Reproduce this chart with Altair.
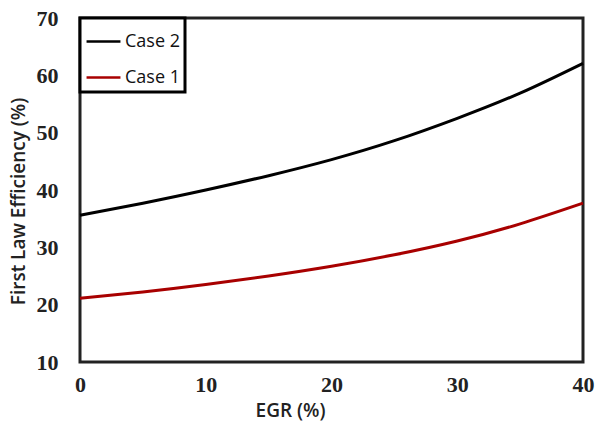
import altair as alt
import pandas as pd

egr = [0, 5, 10, 15, 20, 25, 30, 35, 40]
case2 = [35.6, 37.7, 40.0, 42.5, 45.3, 48.6, 52.5, 56.9, 62.1]
case1 = [21.1, 22.2, 23.5, 25.0, 26.7, 28.7, 31.1, 34.1, 37.7]
series_names = ["Case 2", "Case 1"]
series_colors = ["#000000", "#A80000"]

rows = []
for name, vals in zip(series_names, [case2, case1]):
    for x, v in zip(egr, vals):
        rows.append({"EGR": x, "Eff": v, "Series": name})
df = pd.DataFrame(rows)

chart = alt.Chart(df).mark_line(strokeWidth=3, interpolate="natural").encode(
    x=alt.X("EGR:Q", scale=alt.Scale(domain=[0, 40], nice=False),
            axis=alt.Axis(values=[0, 10, 20, 30, 40], title="EGR (%)", grid=False,
                          ticks=False, domain=False, labelPadding=12, labelFlush=False,
                          labelFont="Liberation Serif", labelFontSize=22, labelFontWeight="bold",
                          labelColor="#222", titleFont="Open Sans", titleFontSize=19,
                          titleFontWeight=600, titleColor="#222", titlePadding=6,
                          titleX=210)),
    y=alt.Y("Eff:Q", scale=alt.Scale(domain=[10, 70], nice=False),
            axis=alt.Axis(values=[10, 20, 30, 40, 50, 60, 70], title="First Law Efficiency (%)",
                          grid=False, ticks=False, domain=False, labelPadding=22,
                          labelFont="Liberation Serif", labelFontSize=22, labelFontWeight="bold",
                          labelColor="#222", titleFont="Open Sans", titleFontSize=19,
                          titleFontWeight=600, titleColor="#222", titleY=183, titlePadding=8)),
    color=alt.Color("Series:N", scale=alt.Scale(domain=series_names, range=series_colors),
                    legend=alt.Legend(title=None, orient="none", legendX=0, legendY=0,
                                      strokeColor="#000", fillColor="white", padding=5,
                                      symbolType="stroke", symbolSize=1150,
                                      symbolStrokeWidth=2.5, labelFont="Open Sans",
                                      labelFontSize=18, labelColor="#111", labelOffset=3,
                                      rowPadding=8, labelLimit=200)),
).properties(
    width=503, height=344,
    autosize=alt.AutoSizeParams(type="none"),
    padding={"left": 80, "top": 18, "right": 15, "bottom": 63},
).configure_view(stroke="#222", strokeWidth=3).configure_legend(strokeWidth=3)

chart.save("out.html", embed_options={"renderer": "svg", "actions": False})
